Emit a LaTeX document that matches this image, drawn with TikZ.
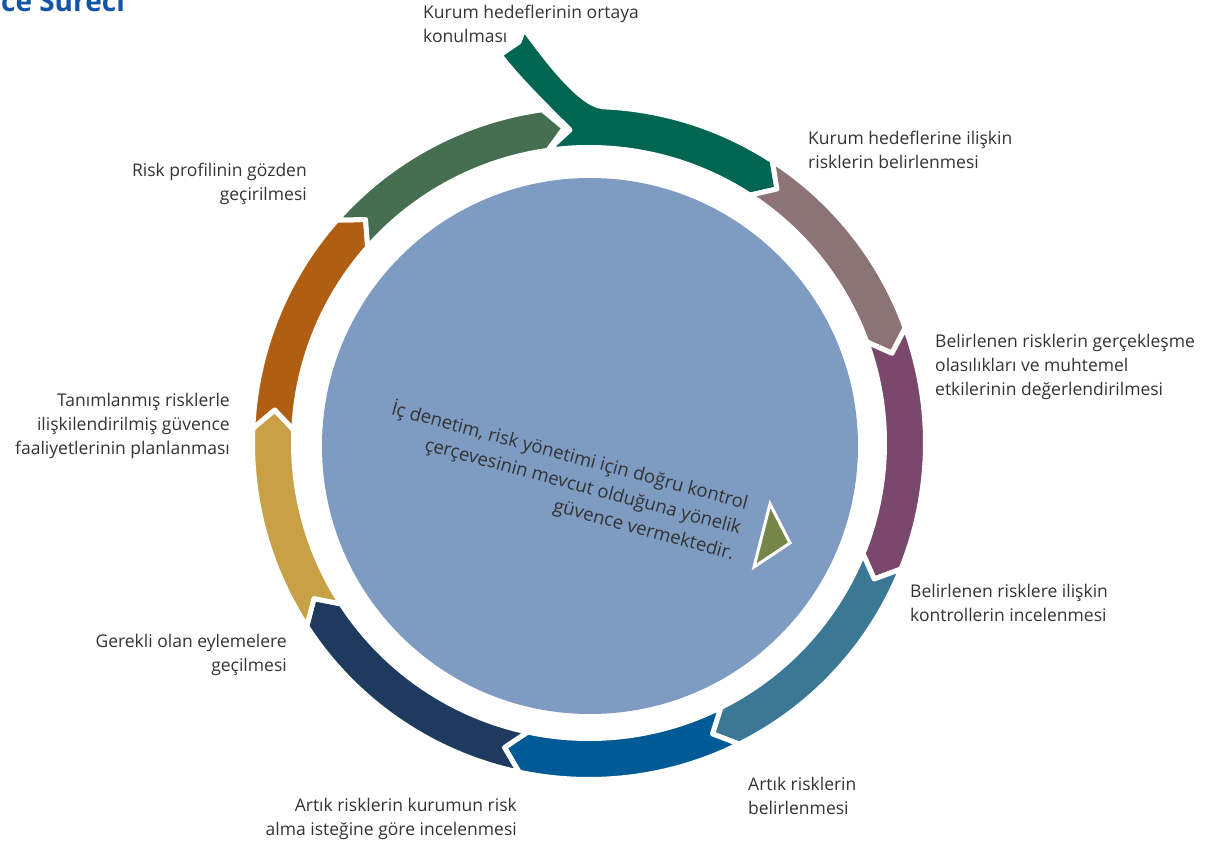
\documentclass[tikz,border=0pt]{standalone}
\usepackage{fontspec}
\setmainfont{Open Sans}

\definecolor{hedefgreen}{RGB}{0,102,81}
\definecolor{mauve}{RGB}{140,115,118}
\definecolor{plum}{RGB}{122,72,106}
\definecolor{teal}{RGB}{59,120,150}
\definecolor{ocean}{RGB}{0,90,150}
\definecolor{navy}{RGB}{30,58,95}
\definecolor{gold}{RGB}{200,160,70}
\definecolor{rust}{RGB}{176,95,18}
\definecolor{sage}{RGB}{70,110,80}
\definecolor{core}{RGB}{126,155,194}
\definecolor{olive}{RGB}{118,134,74}
\definecolor{textgray}{RGB}{51,51,51}
\definecolor{titleblue}{RGB}{20,84,166}

\begin{document}
\begin{tikzpicture}[x=1pt,y=1pt]
	\tikzstyle{seg}=[draw=white, line width=5pt, line join=round]
	\tikzstyle{lbl}=[inner sep=0pt, text=textgray, font=\fontsize{17.5}{24}\selectfont]
	\useasboundingbox (-589,-402) rectangle (635,443);

	\fill[core] (1,-3) circle (268);

	% ring, clockwise from the top
	\filldraw[seg, fill=hedefgreen] (98:295.5) -- (-19,313) .. controls (-37,331) and (-70,363) .. (-89,388) -- (-70,401) -- (-65,414) .. controls (-49,393) and (-11,338.5) .. (87.6:336.5) arc[start angle=87.6, end angle=57, radius=336.5] -- (53.5:316) -- (57:295.5) arc[start angle=57, end angle=98, radius=295.5] -- cycle;
	\filldraw[seg, fill=mauve] (57:336.5) arc[start angle=57, end angle=20, radius=336.5] -- (16.5:316) -- (20:295.5) arc[start angle=20, end angle=57, radius=295.5] -- (53.5:316) -- cycle;
	\filldraw[seg, fill=plum] (20:336.5) arc[start angle=20, end angle=-22, radius=336.5] -- (-25.5:316) -- (-22:295.5) arc[start angle=-22, end angle=20, radius=295.5] -- (16.5:316) -- cycle;
	\filldraw[seg, fill=teal] (-22:336.5) arc[start angle=-22, end angle=-63.5, radius=336.5] -- (-67:316) -- (-63.5:295.5) arc[start angle=-63.5, end angle=-22, radius=295.5] -- (-25.5:316) -- cycle;
	\filldraw[seg, fill=ocean] (-63.5:336.5) arc[start angle=-63.5, end angle=-102, radius=336.5] -- (-105.5:316) -- (-102:295.5) arc[start angle=-102, end angle=-63.5, radius=295.5] -- (-67:316) -- cycle;
	\filldraw[seg, fill=navy] (-102:336.5) arc[start angle=-102, end angle=-147, radius=336.5] -- (-150.5:316) -- (-147:295.5) arc[start angle=-147, end angle=-102, radius=295.5] -- (-105.5:316) -- cycle;
	\filldraw[seg, fill=gold] (-147:336.5) arc[start angle=-147, end angle=-182.5, radius=336.5] -- (-186:316) -- (-182.5:295.5) arc[start angle=-182.5, end angle=-147, radius=295.5] -- (-150.5:316) -- cycle;
	\filldraw[seg, fill=rust] (177.5:336.5) arc[start angle=177.5, end angle=138.5, radius=336.5] -- (135:316) -- (138.5:295.5) arc[start angle=138.5, end angle=177.5, radius=295.5] -- (174:316) -- cycle;
	\filldraw[seg, fill=sage] (138.5:336.5) arc[start angle=138.5, end angle=98, radius=336.5] -- (94.5:316) -- (98:295.5) arc[start angle=98, end angle=138.5, radius=295.5] -- (135:316) -- cycle;

	\filldraw[fill=olive, draw=white, line width=3pt] (181,-61) -- (201,-100) -- (165,-124) -- cycle;

	\node[lbl, rotate=-15, align=right, font=\fontsize{18.5}{26}\selectfont] (guvence) at (-26,-38) {İç denetim, risk yönetimi için doğru kontrol\\çerçevesinin mevcut olduğuna yönelik\\güvence vermektedir.};

	% base anchor = last line
	\node[lbl, align=left, anchor=base west] (hedef) at (-166,400) {Kurum hedeflerinin ortaya\\konulması};
	\node[lbl, align=left, anchor=base west] (riskbelir) at (219,274) {Kurum hedeflerine ilişkin\\risklerin belirlenmesi};
	\node[lbl, align=left, anchor=base west] (olasilik) at (346,47) {Belirlenen risklerin gerçekleşme\\olasılıkları ve muhtemel\\etkilerinin değerlendirilmesi};
	\node[lbl, align=left, anchor=base west] (kontrol) at (321,-179) {Belirlenen risklere ilişkin\\kontrollerin incelenmesi};
	\node[lbl, align=left, anchor=base west] (artik) at (159,-371) {Artık risklerin\\belirlenmesi};
	\node[lbl, align=right, anchor=base east] (istek) at (-72,-392) {Artık risklerin kurumun risk\\alma isteğine göre incelenmesi};
	\node[lbl, align=right, anchor=base east] (eylem) at (-302,-229) {Gerekli olan eylemelere\\geçilmesi};
	\node[lbl, align=right, anchor=base east] (planlama) at (-359,-12) {Tanımlanmış risklerle\\ilişkilendirilmiş güvence\\faaliyetlerinin planlanması};
	\node[lbl, align=right, anchor=base east] (profil) at (-282,242) {Risk profilinin gözden\\geçirilmesi};

	\node[inner sep=0pt, anchor=base east, text=titleblue, font=\fontsize{28}{32}\selectfont\bfseries] (baslik) at (-464,431) {ce Süreci};
\end{tikzpicture}
\end{document}
